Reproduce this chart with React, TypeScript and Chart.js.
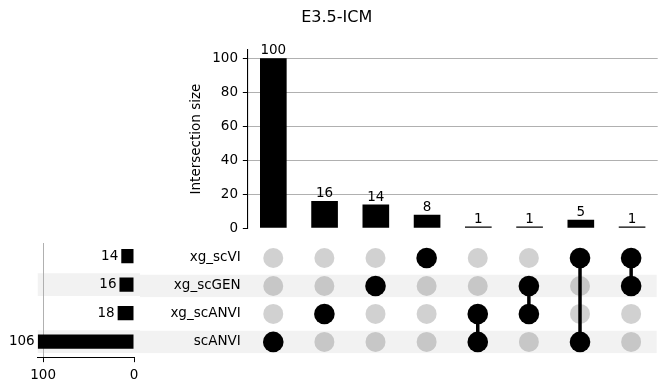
import React, { useEffect, useRef } from 'react';
import { Chart, registerables } from 'chart.js';

Chart.register(...registerables);

// ---------- data ----------
const TITLE = 'E3.5-ICM';
const Y_TITLE = 'Intersection size';
const setNames = ['xg_scVI', 'xg_scGEN', 'xg_scANVI', 'scANVI'];
const setTotals = [14, 16, 18, 106];
const intersectionSizes = [100, 16, 14, 8, 1, 1, 5, 1];
const intersectionMembers = [
  ['scANVI'],
  ['xg_scANVI'],
  ['xg_scGEN'],
  ['xg_scVI'],
  ['xg_scANVI', 'scANVI'],
  ['xg_scGEN', 'xg_scANVI'],
  ['xg_scVI', 'scANVI'],
  ['xg_scVI', 'xg_scGEN'],
];
const intersectionTicks = [0, 20, 40, 60, 80, 100];
const totalTicks = [0, 100];

// ---------- style ----------
const FAMILY = 'DejaVu Sans';
const FS = 13.5;
const font = { family: FAMILY, size: FS };
const GRID = '#b0b0b0';
const BAND = 'rgba(0,0,0,0.05)';
const OTHER_DOT = 'rgba(0,0,0,0.18)';
const TRANSPARENT = 'rgba(0,0,0,0)';
const ROW_MIN = -0.46;
const ROW_MAX = 3.55;

Chart.defaults.font.family = FAMILY;
Chart.defaults.color = '#000';

const barValueLabels = {
  id: 'barValueLabels',
  afterDatasetsDraw(chart: any, _args: any, opts: any) {
    const ctx = chart.ctx;
    const meta = chart.getDatasetMeta(0);
    const values = chart.data.datasets[0].data;
    ctx.save();
    ctx.font = `${FS}px "${FAMILY}"`;
    ctx.fillStyle = '#000';
    meta.data.forEach((el: any, i: number) => {
      const v = values[i];
      const val = typeof v === 'object' ? v.x : v;
      if (opts.horizontal) {
        ctx.textAlign = 'right';
        ctx.textBaseline = 'middle';
        ctx.fillText(String(val), el.x - opts.gap, el.y);
      } else {
        ctx.textAlign = 'center';
        ctx.textBaseline = 'alphabetic';
        ctx.fillText(String(val), el.x, el.y - opts.gap);
      }
    });
    ctx.restore();
  },
};

const rowBands = {
  id: 'rowBands',
  beforeDraw(chart: any, _args: any, opts: any) {
    if (!opts || !opts.enabled) return;
    const y = chart.scales.y;
    const ctx = chart.ctx;
    const { left, right } = chart.chartArea;
    const x0 = opts.fromCanvasLeft ? 0 : left;
    const x1 = opts.toCanvasRight ? chart.width : right;
    ctx.save();
    ctx.fillStyle = BAND;
    setNames.forEach((_n, i) => {
      if (i % 2 === 1) {
        const a = y.getPixelForValue(i - 0.4);
        const b = y.getPixelForValue(i + 0.4);
        ctx.fillRect(x0, Math.min(a, b), x1 - x0, Math.abs(b - a));
      }
    });
    ctx.restore();
  },
};

const rowTicks = (s: any) => {
  s.ticks = setNames.map((_n, i) => ({ value: i }));
};

export default function App() {
  const topRef = useRef<HTMLCanvasElement>(null);
  const leftRef = useRef<HTMLCanvasElement>(null);
  const matRef = useRef<HTMLCanvasElement>(null);

  useEffect(() => {
    const charts: Chart[] = [];

    // ---- intersection size bars ----
    charts.push(
      new Chart(topRef.current!, {
        type: 'bar',
        data: {
          labels: intersectionMembers.map((m) => m.join(' & ')),
          datasets: [
            {
              data: intersectionSizes,
              backgroundColor: '#000',
              categoryPercentage: 1,
              barPercentage: 0.52,
            },
          ],
        },
        options: {
          responsive: false,
          animation: false,
          events: [],
          layout: { padding: { left: 15.7, right: 9.3, top: 0, bottom: 21.7 } },
          plugins: {
            legend: { display: false },
            tooltip: { enabled: false },
            title: {
              display: true,
              text: TITLE,
              color: '#000',
              font: { family: FAMILY, size: 16, weight: 'normal' },
              padding: { top: 8.4, bottom: 22.2 },
            },
            barValueLabels: { horizontal: false, gap: 4 },
          } as any,
          scales: {
            x: { display: false },
            y: {
              min: 0,
              max: 105,
              afterFit: (s: any) => {
                s.width = 232;
              },
              afterBuildTicks: (s: any) => {
                s.ticks = intersectionTicks.map((v) => ({ value: v }));
              },
              ticks: { font, color: '#000', padding: 4.86 },
              grid: {
                color: (c: any) => (c.tick && c.tick.value === 0 ? TRANSPARENT : GRID),
                lineWidth: 1,
                tickColor: '#000',
                tickLength: 4.86,
              },
              border: { display: true, color: '#000', width: 1.1 },
              title: {
                display: true,
                text: Y_TITLE,
                color: '#000',
                font,
                padding: { top: 172.9, bottom: 0 },
              },
            },
          },
        } as any,
        plugins: [barValueLabels],
      })
    );

    // ---- set totals ----
    charts.push(
      new Chart(leftRef.current!, {
        type: 'bar',
        data: {
          datasets: [
            {
              data: setTotals.map((v, i) => ({ x: v, y: i })),
              backgroundColor: '#000',
              categoryPercentage: 1,
              barPercentage: 0.5,
            },
          ],
        },
        options: {
          indexAxis: 'y',
          responsive: false,
          animation: false,
          events: [],
          layout: { padding: { left: 37.7, right: 6, top: 13, bottom: 0 } },
          plugins: {
            legend: { display: false },
            tooltip: { enabled: false },
            rowBands: { enabled: true, fromCanvasLeft: false, toCanvasRight: true },
            barValueLabels: { horizontal: true, gap: 3 },
          } as any,
          scales: {
            x: {
              type: 'linear',
              reverse: true,
              min: 0,
              max: 106,
              afterFit: (s: any) => {
                s.height = 33.7;
              },
              afterBuildTicks: (s: any) => {
                s.ticks = totalTicks.map((v) => ({ value: v }));
              },
              ticks: { font, color: '#000', padding: 4.86, maxRotation: 0 },
              grid: {
                color: (c: any) => (c.tick && c.tick.value === 0 ? TRANSPARENT : GRID),
                lineWidth: 1,
                tickColor: '#000',
                tickLength: 4.86,
              },
              border: { display: true, color: '#000', width: 1.1 },
            },
            y: {
              type: 'linear',
              display: true,
              offset: false,
              min: ROW_MIN,
              max: ROW_MAX,
              reverse: true,
              afterBuildTicks: rowTicks,
              afterFit: (s: any) => {
                s.width = 0;
              },
              ticks: { display: false },
              grid: { display: false, drawTicks: false, offset: false },
              border: { display: false },
            },
          },
        } as any,
        plugins: [rowBands, barValueLabels],
      })
    );

    // ---- membership matrix ----
    const otherDots: { x: number; y: number }[] = [];
    const memberDots: { x: number; y: number }[] = [];
    const connectors: any[] = [];
    intersectionMembers.forEach((members, i) => {
      const rows: number[] = [];
      setNames.forEach((name, r) => {
        if (members.includes(name)) {
          memberDots.push({ x: i, y: r });
          rows.push(r);
        } else {
          otherDots.push({ x: i, y: r });
        }
      });
      if (rows.length > 1) {
        connectors.push({
          data: [
            { x: i, y: Math.min(...rows) },
            { x: i, y: Math.max(...rows) },
          ],
          showLine: true,
          borderColor: '#000',
          borderWidth: 3.5,
          pointRadius: 0,
          order: 2,
        });
      }
    });

    charts.push(
      new Chart(matRef.current!, {
        type: 'scatter',
        data: {
          datasets: [
            {
              data: otherDots,
              backgroundColor: OTHER_DOT,
              borderWidth: 0,
              pointRadius: 10,
              order: 3,
            },
            ...connectors,
            {
              data: memberDots,
              backgroundColor: '#000',
              borderWidth: 0,
              pointRadius: 10.3,
              order: 1,
            },
          ],
        },
        options: {
          responsive: false,
          animation: false,
          events: [],
          layout: { padding: { left: 0, right: 9.3, top: 13, bottom: 33.7 } },
          plugins: {
            legend: { display: false },
            tooltip: { enabled: false },
            rowBands: { enabled: true, fromCanvasLeft: true, toCanvasRight: false },
          } as any,
          scales: {
            x: { type: 'linear', display: false, offset: false, min: -0.5, max: 7.5 },
            y: {
              type: 'linear',
              offset: false,
              min: ROW_MIN,
              max: ROW_MAX,
              reverse: true,
              afterFit: (s: any) => {
                s.width = 107.7;
              },
              afterBuildTicks: rowTicks,
              ticks: {
                font,
                color: '#000',
                padding: 7,
                autoSkip: false,
                callback: (v: any) => setNames[v],
              },
              grid: { display: false, drawTicks: false },
              border: { display: false },
            },
          },
        } as any,
        plugins: [rowBands],
      })
    );

    return () => charts.forEach((c) => c.destroy());
  }, []);

  return (
    <div
      style={{
        position: 'absolute',
        left: 0,
        top: 0,
        width: 667,
        height: 391,
        background: '#fff',
        overflow: 'hidden',
      }}
    >
      <canvas ref={topRef} width={667} height={250} style={{ position: 'absolute', left: 0, top: 0 }} />
      <canvas ref={leftRef} width={140} height={161} style={{ position: 'absolute', left: 0, top: 230 }} />
      <canvas ref={matRef} width={527} height={161} style={{ position: 'absolute', left: 140, top: 230 }} />
    </div>
  );
}
